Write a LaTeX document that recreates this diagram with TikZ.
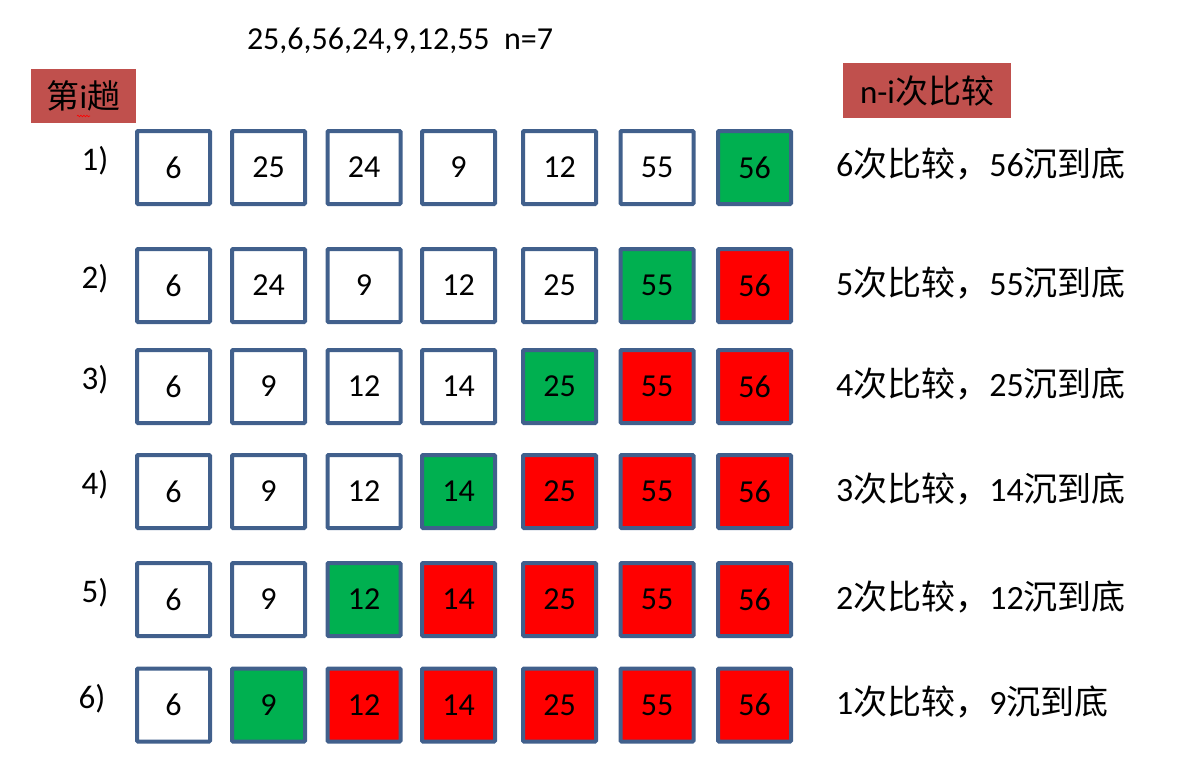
\documentclass[tikz,border=0pt]{standalone}
\usepackage{fontspec}
\setmainfont{Carlito}
\newfontfamily\cjk{Noto Sans CJK SC}
\usepackage{xcolor}
\usepackage{tikz}
\usetikzlibrary{decorations.pathmorphing}

\definecolor{cellline}{HTML}{41608C}
\definecolor{sunkgreen}{HTML}{00B050}
\definecolor{headred}{HTML}{C0504D}

\tikzset{
  cell/.style={draw=cellline, line width=4pt, rounded corners=1pt, fill=white,
    minimum width=73pt, minimum height=73pt, inner sep=0pt,
    font=\fontsize{32}{38}\selectfont},
  sunk/.style={cell, fill=sunkgreen},
  done/.style={cell, fill=red},
  headbox/.style={fill=headred, inner sep=0pt, font=\fontsize{33}{38}\selectfont},
  passlbl/.style={font=\fontsize{33}{38}\selectfont},
  remark/.style={anchor=west, inner sep=0pt, font=\fontsize{34}{40}\selectfont}
}

\begin{document}
\begin{tikzpicture}[x=1pt,y=-1pt]
\useasboundingbox (0,0) rectangle (1181,761);

\node[font=\fontsize{32}{38}\selectfont] (input) at (400,41) {25,6,56,24,9,12,55\ \ n=7};
\node[headbox, minimum width=105pt, minimum height=54pt] (pass) at (83.5,96) {{\cjk 第}i{\cjk 趟}};
\draw[red, line width=0.6pt, decorate, decoration={snake, amplitude=0.8pt, segment length=3pt}] (77,116) -- (90,116);
\node[headbox, minimum width=168pt, minimum height=55pt] (cmp) at (927,90.5) {n-i{\cjk 次比较}};

% 1)
\node[passlbl] (p1) at (95,161) {1)};
\node[cell] (r1c1) at (173.5,167.5) {6};
\node[cell] (r1c2) at (268.5,167.5) {25};
\node[cell] (r1c3) at (364,167.5) {24};
\node[cell] (r1c4) at (458.5,167.5) {9};
\node[cell] (r1c5) at (559.5,167.5) {12};
\node[cell] (r1c6) at (657,167.5) {55};
\node[sunk] (r1c7) at (754.5,167.5) {56};
\node[remark] (t1) at (836,164) {6{\cjk 次比较，}56{\cjk 沉到底}};

% 2)
\node[passlbl] (p2) at (95,279) {2)};
\node[cell] (r2c1) at (173.5,285.5) {6};
\node[cell] (r2c2) at (268.5,285.5) {24};
\node[cell] (r2c3) at (364,285.5) {9};
\node[cell] (r2c4) at (458.5,285.5) {12};
\node[cell] (r2c5) at (559.5,285.5) {25};
\node[sunk] (r2c6) at (657,285.5) {55};
\node[done] (r2c7) at (754.5,285.5) {56};
\node[remark] (t2) at (836,283) {5{\cjk 次比较，}55{\cjk 沉到底}};

% 3)
\node[passlbl] (p3) at (95,380) {3)};
\node[cell] (r3c1) at (173.5,386.5) {6};
\node[cell] (r3c2) at (268.5,386.5) {9};
\node[cell] (r3c3) at (364,386.5) {12};
\node[cell] (r3c4) at (458.5,386.5) {14};
\node[sunk] (r3c5) at (559.5,386.5) {25};
\node[done] (r3c6) at (657,386.5) {55};
\node[done] (r3c7) at (754.5,386.5) {56};
\node[remark] (t3) at (836,384) {4{\cjk 次比较，}25{\cjk 沉到底}};

% 4)
\node[passlbl] (p4) at (95,485) {4)};
\node[cell] (r4c1) at (173.5,491.5) {6};
\node[cell] (r4c2) at (268.5,491.5) {9};
\node[cell] (r4c3) at (364,491.5) {12};
\node[sunk] (r4c4) at (458.5,491.5) {14};
\node[done] (r4c5) at (559.5,491.5) {25};
\node[done] (r4c6) at (657,491.5) {55};
\node[done] (r4c7) at (754.5,491.5) {56};
\node[remark] (t4) at (836,489) {3{\cjk 次比较，}14{\cjk 沉到底}};

% 5)
\node[passlbl] (p5) at (95,593) {5)};
\node[cell] (r5c1) at (173.5,599.5) {6};
\node[cell] (r5c2) at (268.5,599.5) {9};
\node[sunk] (r5c3) at (364,599.5) {12};
\node[done] (r5c4) at (458.5,599.5) {14};
\node[done] (r5c5) at (559.5,599.5) {25};
\node[done] (r5c6) at (657,599.5) {55};
\node[done] (r5c7) at (754.5,599.5) {56};
\node[remark] (t5) at (836,597) {2{\cjk 次比较，}12{\cjk 沉到底}};

% 6)
\node[passlbl] (p6) at (92,699) {6)};
\node[cell] (r6c1) at (173.5,705) {6};
\node[sunk] (r6c2) at (268.5,705) {9};
\node[done] (r6c3) at (364,705) {12};
\node[done] (r6c4) at (458.5,705) {14};
\node[done] (r6c5) at (559.5,705) {25};
\node[done] (r6c6) at (657,705) {55};
\node[done] (r6c7) at (754.5,705) {56};
\node[remark] (t6) at (836,702) {1{\cjk 次比较，}9{\cjk 沉到底}};
\end{tikzpicture}
\end{document}
